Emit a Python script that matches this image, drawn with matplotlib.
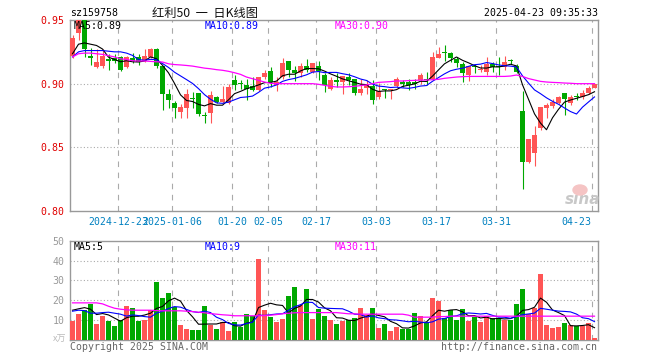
# sina-style daily K-line chart for 红利50 (sz159758)

import numpy as np
import pandas as pd
import matplotlib
matplotlib.use('Agg')
import matplotlib.pyplot as plt
from matplotlib.patches import Ellipse

plt.rcParams['font.family'] = ['DejaVu Sans Mono', 'Noto Sans CJK SC']

# Step 1: data, 88 trading days 2024-12-11 .. 2025-04-23
open_ = [0.922, 0.940, 0.950, 0.922, 0.913, 0.914, 0.919, 0.920, 0.921, 0.913,
         0.920, 0.921, 0.918, 0.921, 0.927, 0.914, 0.892, 0.885, 0.878, 0.881,
         0.8885, 0.893, 0.8752, 0.877, 0.8896, 0.8857, 0.885, 0.903, 0.9003, 0.899,
         0.898, 0.895, 0.905, 0.910, 0.899, 0.905, 0.918, 0.911, 0.908, 0.9136,
         0.909, 0.914, 0.907, 0.896, 0.9026, 0.9013, 0.905, 0.904, 0.8927, 0.8966,
         0.898, 0.8896, 0.896, 0.8948, 0.898, 0.9013, 0.9013, 0.901, 0.903, 0.904,
         0.904, 0.9203, 0.9243, 0.924, 0.9195, 0.9156, 0.9066, 0.9132, 0.9108, 0.909,
         0.9156, 0.9133, 0.913, 0.918, 0.9136, 0.8787, 0.8388, 0.8459, 0.8648, 0.881,
         0.8823, 0.885, 0.8927, 0.885, 0.8899, 0.8896, 0.8927, 0.8969]
high = [0.938, 0.952, 0.952, 0.928, 0.927, 0.927, 0.923, 0.923, 0.922, 0.922,
        0.924, 0.923, 0.927, 0.928, 0.928, 0.914, 0.896, 0.886, 0.884, 0.896,
        0.8935, 0.893, 0.878, 0.894, 0.8905, 0.898, 0.900, 0.9066, 0.903, 0.904,
        0.905, 0.905, 0.911, 0.913, 0.905, 0.920, 0.918, 0.914, 0.916, 0.919,
        0.916, 0.918, 0.908, 0.905, 0.908, 0.906, 0.908, 0.904, 0.904, 0.903,
        0.903, 0.9005, 0.896, 0.896, 0.905, 0.903, 0.904, 0.904, 0.908, 0.909,
        0.925, 0.929, 0.930, 0.925, 0.921, 0.917, 0.914, 0.9156, 0.9143, 0.921,
        0.917, 0.9208, 0.9215, 0.9195, 0.9156, 0.8943, 0.8563, 0.8667, 0.882, 0.8845,
        0.888, 0.890, 0.8927, 0.891, 0.8927, 0.895, 0.898, 0.900]
low = [0.920, 0.934, 0.921, 0.915, 0.912, 0.912, 0.911, 0.916, 0.910, 0.912,
       0.916, 0.915, 0.917, 0.920, 0.912, 0.879, 0.8805, 0.8727, 0.873, 0.873,
       0.8805, 0.875, 0.869, 0.869, 0.885, 0.885, 0.884, 0.8948, 0.8955, 0.887,
       0.8945, 0.8945, 0.904, 0.897, 0.8945, 0.904, 0.905, 0.902, 0.905, 0.909,
       0.908, 0.9026, 0.8935, 0.895, 0.8974, 0.892, 0.8987, 0.891, 0.891, 0.8917,
       0.8844, 0.888, 0.889, 0.888, 0.8974, 0.8974, 0.8948, 0.8955, 0.900, 0.899,
       0.9026, 0.9203, 0.918, 0.917, 0.913, 0.901, 0.902, 0.9083, 0.909, 0.9066,
       0.909, 0.9066, 0.9105, 0.9156, 0.908, 0.8172, 0.838, 0.8355, 0.864, 0.8727,
       0.8805, 0.884, 0.8753, 0.8835, 0.887, 0.888, 0.8922, 0.8964]
close = [0.936, 0.950, 0.927, 0.920, 0.917, 0.922, 0.918, 0.918, 0.911, 0.921,
         0.918, 0.917, 0.922, 0.927, 0.914, 0.892, 0.8875, 0.8805, 0.882, 0.892,
         0.888, 0.876, 0.8748, 0.891, 0.8857, 0.888, 0.897, 0.899, 0.900, 0.896,
         0.895, 0.905, 0.908, 0.901, 0.901, 0.916, 0.911, 0.908, 0.914, 0.9104,
         0.916, 0.910, 0.899, 0.903, 0.901, 0.9058, 0.9026, 0.8927, 0.896, 0.899,
         0.8875, 0.8943, 0.8948, 0.896, 0.904, 0.900, 0.899, 0.900, 0.9066, 0.903,
         0.921, 0.9234, 0.924, 0.9203, 0.916, 0.908, 0.9136, 0.913, 0.911, 0.9156,
         0.913, 0.913, 0.917, 0.9177, 0.909, 0.8388, 0.8563, 0.8597, 0.8813, 0.883,
         0.8857, 0.8896, 0.888, 0.8896, 0.8896, 0.8927, 0.8969, 0.8995]
volume = [9.7, 13, 15, 18, 8.3, 12.3, 9.5, 7, 10.3, 17,
          16, 9.5, 10, 15, 29, 21, 23.7, 16.7, 7.5, 5.5,
          5, 5, 17, 7.8, 5.5, 9, 4.7, 9, 6.7, 13,
          12, 41, 15, 11.5, 9, 10.5, 22, 26.5, 17.5, 25.5,
          10.5, 15.5, 12, 10, 8, 9.7, 10, 11.3, 16, 12.5,
          16, 6, 8, 4.5, 6.5, 5.5, 5.5, 13.5, 12, 9,
          21, 19.5, 11, 15, 10, 15.5, 9.5, 11.5, 9, 12,
          11, 11, 10, 10, 18, 25.5, 13, 16, 33, 7.5,
          6, 6.5, 8.5, 7.5, 7, 7, 8.5, 1]

# moving averages: first points come from days before the chart
ma5_head = [0.9235, 0.931, 0.932, 0.931]
ma10_head = [0.921, 0.925, 0.926, 0.926, 0.926, 0.926, 0.9255, 0.925, 0.925]
ma30 = [0.921, 0.9235, 0.924, 0.924, 0.9235, 0.923, 0.922, 0.921, 0.9195, 0.919,
        0.918, 0.9178, 0.9178, 0.9175, 0.9172, 0.917, 0.9156, 0.915, 0.9147, 0.9143,
        0.9138, 0.913, 0.9122, 0.9117, 0.911, 0.9105, 0.9097, 0.9086, 0.9073, 0.9052,
        0.9039, 0.9026, 0.9013, 0.9003, 0.900, 0.900, 0.900, 0.900, 0.900, 0.900,
        0.900, 0.8995, 0.8987, 0.8979, 0.8974, 0.8974, 0.8976, 0.8979, 0.8985, 0.899,
        0.900, 0.901, 0.9013, 0.9016, 0.9021, 0.9021, 0.9024, 0.9026, 0.9028, 0.9029,
        0.9031, 0.9034, 0.9042, 0.9047, 0.9052, 0.9055, 0.9057, 0.9057, 0.9057, 0.9057,
        0.9057, 0.9057, 0.9057, 0.906, 0.9068, 0.9057, 0.904, 0.9029, 0.9018, 0.9013,
        0.901, 0.9008, 0.9005, 0.9003, 0.900, 0.900, 0.900, 0.900]
vol_ma5_head = [15, 15.7, 16.3, 15.5]
vol_ma10_head = [14.5, 15, 14.8, 13.5, 13.5, 13.8, 14, 13.5, 13]
vol_ma30 = [18.7, 18.7, 18.7, 18.7, 18.7, 18.2, 17, 16, 15.5, 15.2,
            15, 15, 15, 15, 14.8, 14.7, 14.7, 14.7, 14.7, 14.5,
            14.3, 14, 13.7, 13.3, 13, 12.7, 12.5, 12.2, 12.2, 12.2,
            12.2, 12.2, 12.3, 12.5, 12.8, 13.2, 13.5, 13.7, 13.8, 13.8,
            13.8, 13.8, 13.8, 13.8, 13.8, 13.5, 13.2, 13.2, 13, 13,
            13, 13, 13, 13, 13, 13, 12.5, 11.5, 11.5, 11.5,
            11.5, 11.8, 11.8, 12, 12, 12, 12, 12, 12, 12,
            12, 12, 12, 12, 12, 12, 12, 12, 12, 12,
            12, 12, 12, 12, 12, 12, 12, 12]

tick_pos = [8, 17, 27, 33, 41, 51, 61, 71, 87]
tick_labels = ['2024-12-23', '2025-01-06', '01-20', '02-05', '02-17',
               '03-03', '03-17', '03-31', '04-23']


def moving_avg(values, n, head):
    s = pd.Series(values).rolling(n).mean().to_numpy()
    s[:len(head)] = head
    return s


def px(x, y):
    return x / 660, 1 - y / 360


o = np.array(open_)
c = np.array(close)
x = np.arange(len(c))
up = c >= o
colors = np.where(up, '#ff5555', '#00a800')

RED = '#e00000'
FRAME = '#999999'
GRID = '#aaaaaa'
FS = 7.1

# Step 2: figure and axes
fig = plt.figure(figsize=(6.6, 3.6), dpi=100)
ax = fig.add_axes([70 / 660, 1 - 211 / 360, 527.5 / 660, 191 / 360])
axv = fig.add_axes([70 / 660, 1 - 340 / 360, 527.5 / 660, 99.3 / 360])

# Step 3: candles + price MAs
ax.vlines(x, low, high, colors=colors, linewidth=0.8, zorder=3)
body_bottom = np.minimum(o, c)
body_height = np.maximum(np.abs(c - o), 0.0008)
ax.bar(x, body_height, bottom=body_bottom, width=0.83, color=colors, linewidth=0, zorder=3)
ax.plot(x, moving_avg(close, 5, ma5_head), color='black', lw=0.8, zorder=4)
ax.plot(x, moving_avg(close, 10, ma10_head), color='#0000ff', lw=0.8, zorder=4)
ax.plot(x, ma30, color='#ff00ff', lw=0.9, zorder=4)

# Step 4: volume bars + volume MAs
axv.bar(x, volume, width=0.83, color=colors, linewidth=0, zorder=3)
axv.plot(x, moving_avg(volume, 5, vol_ma5_head), color='black', lw=0.8, zorder=4)
axv.plot(x, moving_avg(volume, 10, vol_ma10_head), color='#0000ff', lw=0.8, zorder=4)
axv.plot(x, vol_ma30, color='#ff00ff', lw=0.9, zorder=4)

# Step 5: axes styling
for a in (ax, axv):
    a.set_xlim(-0.42, 87.5)
    a.set_xticks([])
    for s in a.spines.values():
        s.set_color(FRAME)
        s.set_linewidth(1)
    for p in tick_pos:
        a.axvline(p - 0.42, color=GRID, lw=0.8, ls=(0, (5, 5)), zorder=1)
    a.tick_params(axis='y', length=0, pad=4, labelsize=FS)

ax.set_ylim(0.80, 0.95)
ax.set_yticks([0.80, 0.85, 0.90, 0.95])
ax.set_yticklabels(['0.80', '0.85', '0.90', '0.95'], color=RED)
for v in [0.85, 0.90]:
    ax.axhline(v, color=GRID, lw=0.8, ls=(0, (1, 2)), zorder=1)

axv.set_ylim(0, 50)
axv.set_yticks([10, 20, 30, 40, 50])
axv.set_yticklabels(['10', '20', '30', '40', '50'], color=FRAME)
for v in [10, 20, 30, 40]:
    axv.axhline(v, color=GRID, lw=0.8, ls=(0, (1, 2)), zorder=1)

# date labels under the price panel
for p, lab in zip(tick_pos, tick_labels):
    if p == tick_pos[-1]:
        ax.text(p - 0.6, -0.056, lab, ha='right', va='center', color='#0080c0',
                fontsize=FS, transform=ax.get_xaxis_transform())
    else:
        ax.text(p - 0.42, -0.056, lab, ha='center', va='center', color='#0080c0',
                fontsize=FS, transform=ax.get_xaxis_transform())

# Step 6: header, legends, footer
fig.text(*px(70, 13), 'sz159758', fontsize=FS, va='center', color='black')
fig.text(*px(205, 13), '红利50  一  日K线图', fontsize=8.8, va='center', ha='center',
         family=['Noto Sans CJK SC'], color='#111111')
fig.text(*px(597.5, 13), '2025-04-23 09:35:33', fontsize=FS, va='center', ha='right')

fig.text(*px(74, 26), 'MA5:0.89', fontsize=FS, va='center', color='black')
fig.text(*px(205, 26), 'MA10:0.89', fontsize=FS, va='center', color='#0000ff')
fig.text(*px(335, 26), 'MA30:0.90', fontsize=FS, va='center', color='#ff00ff')

fig.text(*px(74, 246.5), 'MA5:5', fontsize=FS, va='center', color='black')
fig.text(*px(205, 246.5), 'MA10:9', fontsize=FS, va='center', color='#0000ff')
fig.text(*px(335, 246.5), 'MA30:11', fontsize=FS, va='center', color='#ff00ff')

fig.text(*px(66, 339), 'x万', fontsize=6.5, va='center', ha='right', color='#bbbbbb',
         family=['Noto Sans CJK SC'])
fig.text(*px(70, 347), 'Copyright 2025 SINA.COM', fontsize=FS, va='center', color='#666666')
fig.text(*px(597.5, 347), 'http://finance.sina.com.cn', fontsize=FS, va='center',
         ha='right', color='#666666')

# sina watermark
fig.add_artist(Ellipse(px(580, 190), 14 / 660, 10 / 360, transform=fig.transFigure,
                       color='#f5c4c4', zorder=5))
fig.text(*px(583, 199), 'sina', fontsize=11, fontweight='bold', style='italic',
         ha='center', va='center', color='#c8c8c8', family=['DejaVu Sans'])

plt.savefig('out.png', dpi=100)
